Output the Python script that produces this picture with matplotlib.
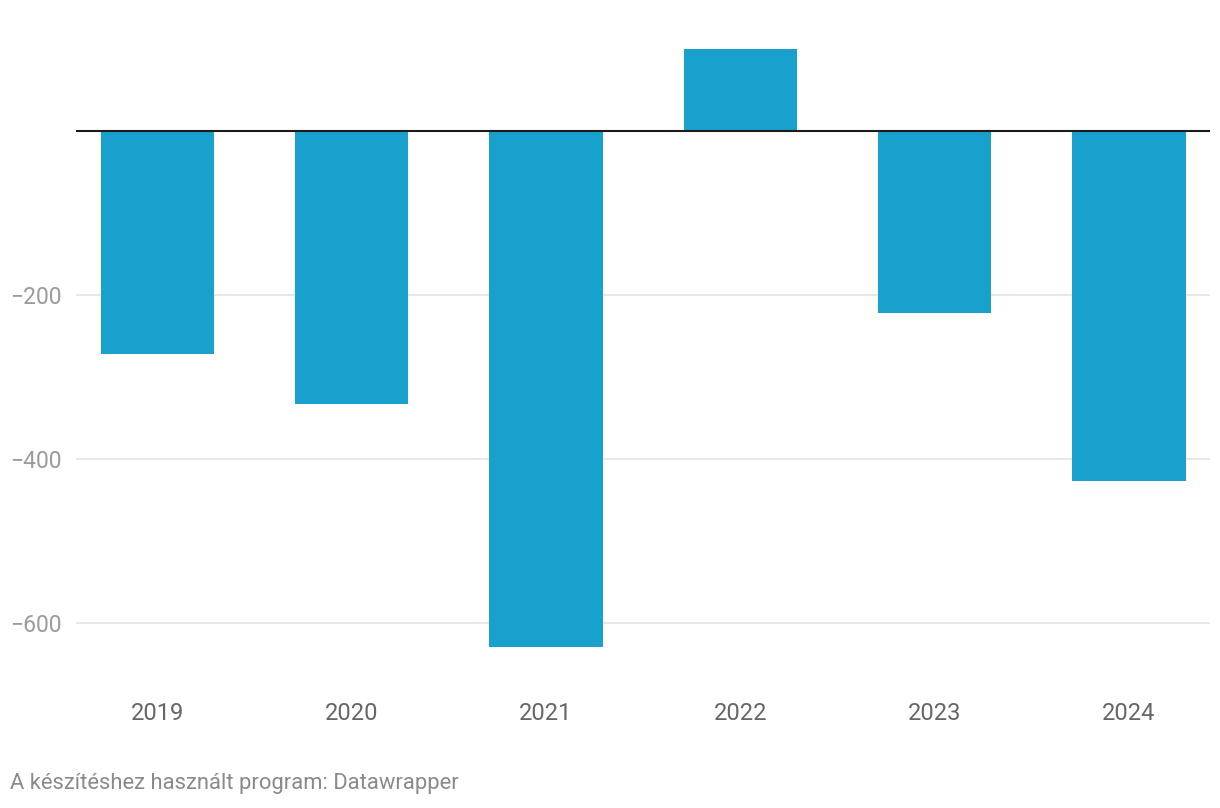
import matplotlib.pyplot as plt
from matplotlib.ticker import FuncFormatter

years = ["2019", "2020", "2021", "2022", "2023", "2024"]
values = [-272, -334, -630, 100, -223, -427]
yticks = [-200, -400, -600]

plt.rcParams['font.family'] = ['Roboto', 'DejaVu Sans']

W, H = 1220, 808
fig = plt.figure(figsize=(W / 100, H / 100), dpi=100)
# axes placed in pixel coordinates
ax = fig.add_axes([76 / W, 1 - 680 / H, (1210 - 76) / W, 660 / H])

x = list(range(len(years)))
ax.bar(x, values, width=0.584, color="#18a1cd", zorder=2)
ax.axhline(0, color="#1a1a1a", lw=1.5, zorder=3)

ax.set_xlim(-0.419, 5.417)
ax.set_ylim(-670.1, 134.8)

ax.set_yticks(yticks)
ax.yaxis.set_major_formatter(FuncFormatter(lambda v, p: f"{int(v)}".replace("-", "\u2212")))
ax.grid(axis="y", color="#e3e3e3", lw=1.2, zorder=1)
ax.set_axisbelow(True)
ax.tick_params(axis="y", length=0, pad=10, labelsize=16.5, labelcolor="#9b9b9b")

ax.set_xticks(x)
ax.set_xticklabels(years)
ax.tick_params(axis="x", length=0, pad=16, labelsize=17, labelcolor="#666666")

for s in ax.spines.values():
    s.set_visible(False)

fig.text(10 / W, 1 - 783 / H, "A készítéshez használt program: Datawrapper",
         fontsize=15.8, color="#8a8a8a", ha="left", va="center")

fig.savefig("out.png", dpi=100, facecolor="white")
